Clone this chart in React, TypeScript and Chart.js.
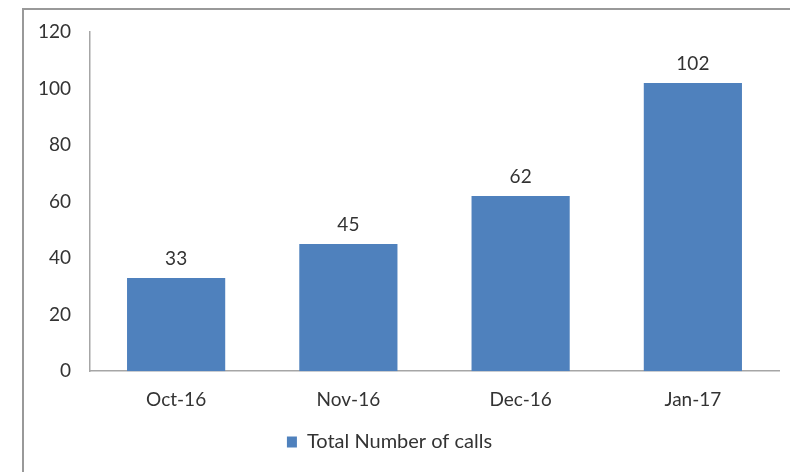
import React, { useEffect, useRef } from "react";
import { Chart, registerables } from "chart.js";

Chart.register(...registerables);

const categories = ["Oct-16", "Nov-16", "Dec-16", "Jan-17"];
const totalCalls = [33, 45, 62, 102];
const seriesName = "Total Number of calls";
const yMin = 0;
const yMax = 120;
const yStep = 20;

const FONT = "Lato";
const TEXT = "#333333";
const BAR = "#4F81BD";

const valueLabels = {
  id: "valueLabels",
  afterDatasetsDraw(chart: any) {
    const ctx = chart.ctx;
    ctx.save();
    ctx.font = `19px ${FONT}`;
    ctx.fillStyle = TEXT;
    ctx.textAlign = "center";
    ctx.textBaseline = "bottom";
    chart.data.datasets.forEach((ds: any, i: number) => {
      const meta = chart.getDatasetMeta(i);
      meta.data.forEach((el: any, j: number) => {
        ctx.fillText(String(ds.data[j]), el.x, el.y - 10);
      });
    });
    ctx.restore();
  },
};

export default function App() {
  const ref = useRef<HTMLCanvasElement | null>(null);

  useEffect(() => {
    if (!ref.current) return;
    const chart = new Chart(ref.current, {
      type: "bar",
      data: {
        labels: categories,
        datasets: [
          {
            label: seriesName,
            data: totalCalls,
            backgroundColor: BAR,
            borderWidth: 0,
            categoryPercentage: 1,
            barPercentage: 0.57,
          },
        ],
      },
      options: {
        animation: false,
        responsive: false,
        devicePixelRatio: 1,
        layout: { padding: { top: 32, right: 11, bottom: 10, left: 0 } },
        plugins: {
          legend: {
            position: "bottom",
            labels: {
              font: { family: FONT, size: 20 },
              color: TEXT,
              boxWidth: 10,
              boxHeight: 11,
              padding: 4,
            },
          },
          tooltip: { enabled: false },
          title: { display: false },
        },
        scales: {
          x: {
            grid: { display: false, drawTicks: false },
            border: { display: true, color: "#a6a6a6", width: 1.5 },
            ticks: { font: { family: FONT, size: 19 }, color: TEXT, padding: 17 },
          },
          y: {
            min: yMin,
            max: yMax,
            grid: { display: false, drawTicks: false },
            border: { display: true, color: "#a6a6a6", width: 1.5 },
            ticks: {
              stepSize: yStep,
              font: { family: FONT, size: 19 },
              color: TEXT,
              padding: 19,
            },
            afterFit: (scale: any) => {
              scale.width = 90;
            },
          },
        },
      },
      plugins: [valueLabels],
    });
    return () => chart.destroy();
  }, []);

  return (
    <div style={{ position: "fixed", left: 0, top: 0, width: 790, height: 472, background: "#fff" }}>
      <div
        style={{
          position: "absolute",
          left: 22,
          top: 8,
          right: 0,
          bottom: 0,
          borderLeft: "2px solid #999",
          borderTop: "2px solid #999",
        }}
      />
      <canvas ref={ref} width={790} height={472} style={{ position: "absolute", left: 0, top: 0 }} />
    </div>
  );
}
